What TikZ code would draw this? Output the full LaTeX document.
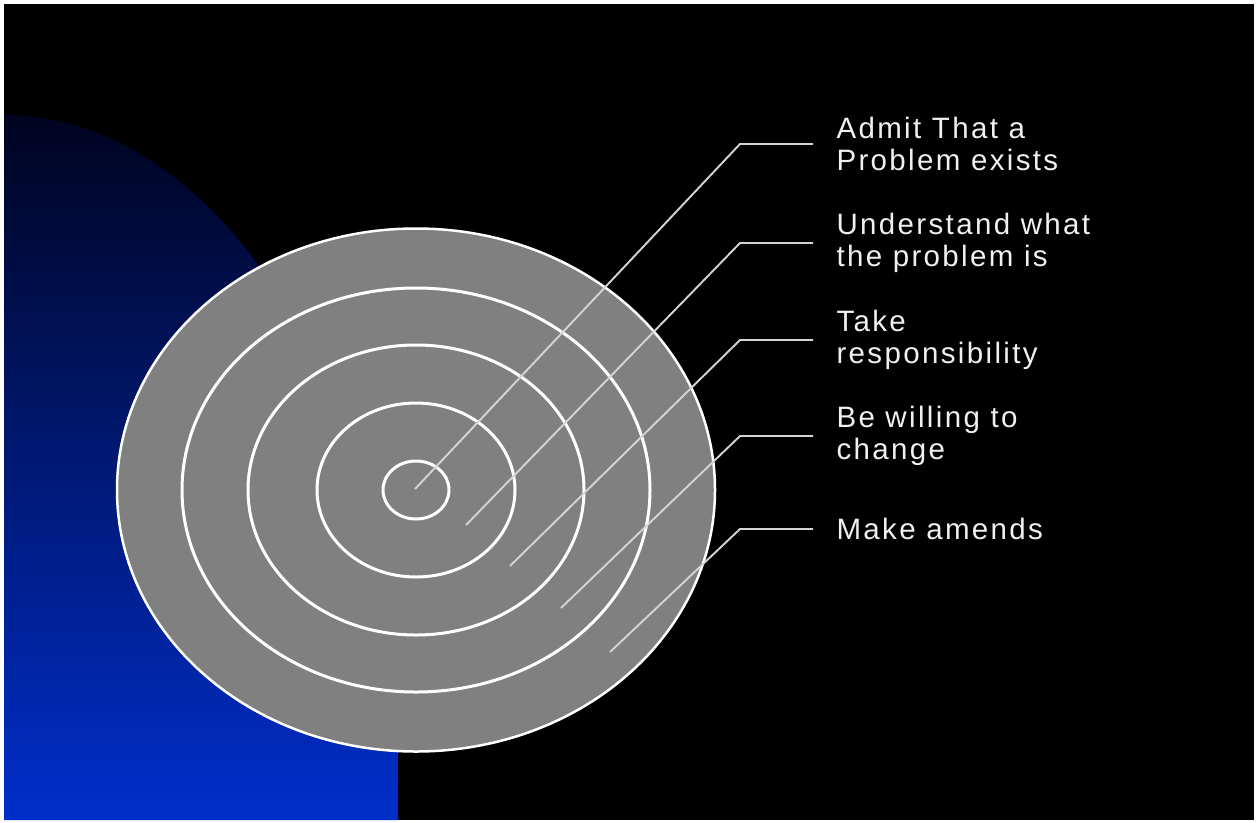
\documentclass[tikz,border=0pt]{standalone}
\usepackage{fontspec}
\newfontfamily\labelfont[LetterSpace=8]{Liberation Sans}
\usetikzlibrary{positioning}

\definecolor{navytop}{RGB}{0,4,32}
\definecolor{navymid}{RGB}{0,38,175}
\definecolor{bluebot}{RGB}{0,46,202}
\definecolor{discgray}{RGB}{128,128,128}
\definecolor{leadgray}{RGB}{212,212,212}

\begin{document}
\begin{tikzpicture}[x=1pt, y=-1pt, line width=3pt,
    ring/.style={draw=white},
    leader/.style={draw=leadgray, line width=1.9pt},
    lbl/.style={text=white!94!black, font=\labelfont\fontsize{29.5}{32}\selectfont, align=left, inner sep=0pt}]

    % --- page and background ---
                \fill[white] (0,0) rectangle (1257,822);
                \useasboundingbox (0,0) rectangle (1257,822);
                \fill[black] (4,4) rectangle (1254,820);
                \shade[top color=navytop, middle color=navymid, bottom color=bluebot]
                    (4,115) arc[start angle=-90, end angle=0, x radius=394, y radius=635]
                    -- (398,820) -- (4,820) -- cycle;

    % --- centre of the target ---
                \coordinate (O) at (416,490);

    % --- radii (x and y) ---
                \def\Rxa{33}  \def\Rya{29}
                \def\Rxb{99}  \def\Ryb{87}
                \def\Rxc{168} \def\Ryc{145}
                \def\Rxd{234} \def\Ryd{202}
                \def\Rxe{299} \def\Rye{261.5}

    % --- disc and rings ---
                \filldraw[fill=discgray, draw=white, line width=2.5pt] (O) ellipse[x radius=\Rxe, y radius=\Rye];
                \draw[ring] (O) ellipse[x radius=\Rxd, y radius=\Ryd];
                \draw[ring] (O) ellipse[x radius=\Rxc, y radius=\Ryc];
                \draw[ring] (O) ellipse[x radius=\Rxb, y radius=\Ryb];
                \draw[ring] (O) ellipse[x radius=\Rxa, y radius=\Rya];

    % --- leader points ---
                \coordinate (s1) at (415,489);  \coordinate (k1) at (740,144);  \coordinate (e1) at (813,144);
                \coordinate (s2) at (466,525);  \coordinate (k2) at (740,243);  \coordinate (e2) at (813,243);
                \coordinate (s3) at (510,566);  \coordinate (k3) at (740,340);  \coordinate (e3) at (813,340);
                \coordinate (s4) at (561,608);  \coordinate (k4) at (740,436);  \coordinate (e4) at (813,436);
                \coordinate (s5) at (610,652);  \coordinate (k5) at (740,529);  \coordinate (e5) at (813,529);

    % --- leaders ---
                \draw[leader] (s1) -- (k1) -- (e1);
                \draw[leader] (s2) -- (k2) -- (e2);
                \draw[leader] (s3) -- (k3) -- (e3);
                \draw[leader] (s4) -- (k4) -- (e4);
                \draw[leader] (s5) -- (k5) -- (e5);

    % --- labels ---
                \node[lbl, right=22pt of e1] (admit) {Admit That a\\Problem exists};
                \node[lbl, right=22pt of e2] (understand) {Understand what\\the problem is};
                \node[lbl, right=22pt of e3] (take) {Take\\responsibility};
                \node[lbl, right=22pt of e4] (willing) {Be willing to\\change};
                \node[lbl, right=22pt of e5] (amends) {Make amends};

            \end{tikzpicture}
\end{document}
